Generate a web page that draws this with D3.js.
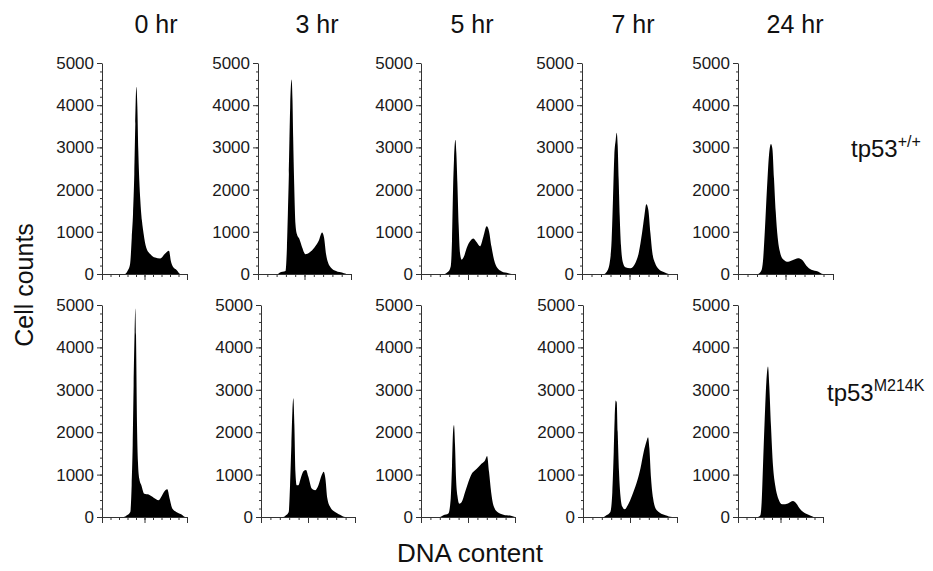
<!DOCTYPE html>
<html>
<head>
<meta charset="utf-8">
<script src="https://cdn.jsdelivr.net/npm/d3@7"></script>
<style>
body{margin:0;background:#fff;}
text{font-family:"Liberation Sans",Arial,Helvetica,sans-serif;}
</style>
</head>
<body>
<script>
// time points (columns) and genotypes (rows)
var hours = ["0 hr", "3 hr", "5 hr", "7 hr", "24 hr"];
var genoBase = ["tp53", "tp53"];
var genoSup = ["+/+", "M214K"];
var countTicks = [0, 1000, 2000, 3000, 4000, 5000];

// histograms: [DNA channel, cell count]
var wt0 = [[0,0],[270,0],[300,70],[330,230],[350,860],[365,1420],[380,2370],[392,3560],[404,4440],[416,3960],[427,2930],[439,2210],[451,1740],[470,1260],[490,950],[520,630],[570,470],[625,390],[685,370],[735,470],[765,530],[788,550],[810,310],[835,170],[880,90],[920,0],[1000,0]];
var wt3 = [[0,0],[214,0],[232,30],[296,70],[311,630],[321,1420],[332,2370],[346,3960],[361,4610],[371,4120],[378,3250],[389,2140],[403,1180],[418,945],[446,825],[475,630],[510,470],[553,510],[607,630],[653,790],[689,985],[710,865],[732,470],[753,270],[785,150],[839,70],[910,30],[964,0],[1000,0]];
var wt5 = [[0,0],[238,0],[291,60],[316,180],[330,810],[341,2000],[351,2710],[366,3180],[376,2870],[387,2160],[401,1130],[415,500],[433,340],[458,420],[486,615],[522,775],[557,840],[593,750],[628,655],[664,890],[699,1130],[724,1010],[749,655],[777,340],[813,140],[859,60],[930,20],[966,0],[1000,0]];
var wt7 = [[0,0],[228,0],[263,60],[291,260],[312,810],[326,1760],[340,2790],[355,3180],[365,3350],[376,3030],[386,2240],[397,1370],[411,655],[432,260],[456,160],[509,135],[562,260],[597,500],[632,970],[656,1370],[677,1650],[698,1520],[720,970],[741,500],[769,260],[807,120],[860,50],[930,0],[1000,0]];
var wt24 = [[0,0],[210,0],[246,80],[263,310],[284,1090],[305,2030],[326,2810],[347,3080],[362,2970],[379,2260],[397,1480],[418,860],[439,550],[474,350],[527,290],[579,330],[632,375],[677,330],[720,195],[772,100],[842,60],[895,0],[1000,0]];
var mut0 = [[0,0],[255,0],[294,40],[333,120],[349,750],[361,1690],[372,3110],[384,4370],[392,4920],[400,4290],[412,2160],[423,1300],[439,905],[463,750],[498,550],[549,530],[608,455],[666,395],[706,510],[745,630],[768,655],[796,430],[827,200],[874,120],[941,55],[980,0],[1000,0]];
var mut3 = [[0,0],[238,0],[266,40],[295,120],[309,750],[323,1700],[334,2490],[344,2800],[355,2170],[366,1070],[380,750],[398,750],[422,910],[451,1080],[479,1110],[504,950],[540,670],[575,630],[611,750],[646,990],[667,1070],[685,910],[706,435],[735,240],[788,120],[841,55],[895,0],[1000,0]];
var mut5 = [[0,0],[202,0],[238,40],[291,80],[316,430],[330,1220],[341,2010],[351,2170],[362,1690],[373,905],[387,510],[408,315],[433,355],[469,590],[504,825],[540,1020],[575,1100],[611,1180],[646,1260],[682,1340],[703,1440],[724,1060],[746,590],[770,275],[813,120],[877,55],[966,25],[1000,0]];
var mut7 = [[0,0],[220,0],[249,40],[291,120],[312,590],[327,1540],[337,2330],[348,2750],[359,2700],[369,2010],[383,1070],[398,510],[419,240],[444,180],[476,275],[522,510],[568,790],[611,1145],[646,1540],[675,1780],[692,1880],[706,1620],[724,910],[746,435],[770,215],[817,100],[877,40],[948,0],[1000,0]];
var mut24 = [[0,0],[235,0],[263,40],[278,340],[294,1200],[314,2300],[333,3170],[353,3550],[368,3090],[388,2150],[412,1200],[439,730],[470,455],[521,300],[588,320],[647,375],[686,320],[733,180],[796,80],[862,25],[902,0],[1000,0]];

var rows = [[wt0, wt3, wt5, wt7, wt24], [mut0, mut3, mut5, mut7, mut24]];

// layout
var width = 933, height = 571;
var panelLeft = [[102, 258, 421, 582, 738], [102, 261, 421, 583, 738]];
var panelWidth = [[85, 93, 94, 95, 95], [85, 94, 94, 94, 85]];
var rowBase = [274, 517], rowTop = [63, 305];
var titleX = [156, 317, 472, 633, 795];

var svg = d3.select("body").append("svg")
    .attr("width", width)
    .attr("height", height);

rows.forEach(function(row, r){
    var y = d3.scaleLinear().domain([0, 5000]).range([rowBase[r], rowTop[r]]);
    row.forEach(function(series, c){
        var w = panelWidth[r][c];
        var x = d3.scaleLinear().domain([0, 1000]).range([0, w]);
        var g = svg.append("g").attr("transform", "translate(" + panelLeft[r][c] + ",0)");

        var area = d3.area()
            .x(function(d){ return x(d[0]); })
            .y0(y(0))
            .y1(function(d){ return y(d[1]); })
            .curve(d3.curveMonotoneX);
        g.append("path").datum(series).attr("d", area).attr("fill", "#000");

        // y axis, minor then major
        g.append("g")
            .call(d3.axisLeft(y).tickValues(d3.range(0, 5001, 200)).tickSize(2).tickFormat(""))
            .call(function(s){ s.select(".domain").remove(); });
        var ya = g.append("g")
            .call(d3.axisLeft(y).tickValues(countTicks).tickSize(5).tickSizeOuter(0).tickPadding(3).tickFormat(d3.format("d")));
        ya.selectAll("text").attr("font-size", 17).attr("fill", "#1a1a1a")
            .style("font-family", "'Liberation Sans', Arial, sans-serif");

        // x axis
        var xg = g.append("g").attr("transform", "translate(0," + rowBase[r] + ")");
        xg.call(d3.axisBottom(x).tickValues(d3.range(0, 1001, 100)).tickSize(3).tickSizeOuter(0).tickFormat(""));
        xg.append("g").call(d3.axisBottom(x).tickValues([0, 500, 1000]).tickSize(6).tickFormat(""))
            .call(function(s){ s.select(".domain").remove(); });

        g.selectAll(".domain, .tick line").attr("stroke", "#333");
    });

    // genotype label
    var lab = svg.append("text")
        .attr("x", r == 0 ? 851 : 827)
        .attr("y", r == 0 ? 157 : 401)
        .attr("font-size", 24)
        .attr("fill", "#111");
    lab.append("tspan").text(genoBase[r]);
    lab.append("tspan").attr("font-size", 16).attr("dy", -10).text(genoSup[r]);
});

// column titles
svg.selectAll(".hr").data(hours).enter().append("text")
    .attr("class", "hr")
    .attr("x", function(d, i){ return titleX[i]; })
    .attr("y", 33)
    .attr("text-anchor", "middle")
    .attr("font-size", 25)
    .attr("fill", "#111")
    .text(function(d){ return d; });

svg.append("text")
    .attr("transform", "translate(33,285) rotate(-90)")
    .attr("text-anchor", "middle")
    .attr("font-size", 25)
    .attr("fill", "#111")
    .text("Cell counts");

svg.append("text")
    .attr("x", 470)
    .attr("y", 562)
    .attr("text-anchor", "middle")
    .attr("font-size", 26)
    .attr("fill", "#111")
    .text("DNA content");
</script>
</body>
</html>
